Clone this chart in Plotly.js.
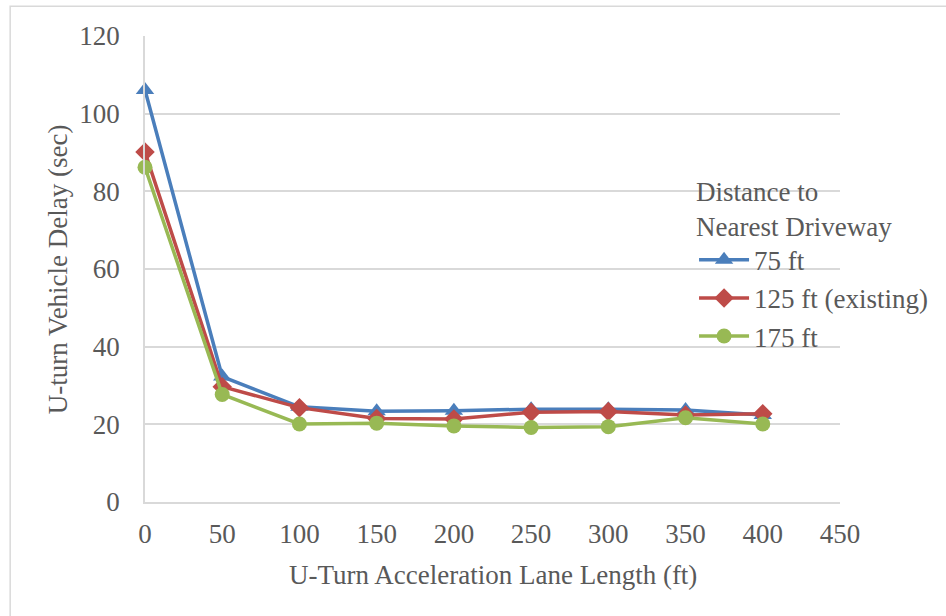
<!DOCTYPE html>
<html>
<head>
<meta charset="utf-8">
<script src="https://cdn.plot.ly/plotly-3.0.1.min.js"></script>
<style>html,body{margin:0;padding:0;background:#fff;}#chart{width:946px;height:616px;}</style>
</head>
<body>
<div id="chart"></div>
<script>
const laneLength = [0, 50, 100, 150, 200, 250, 300, 350, 400];
const delay75 = [106.1, 32.3, 24.5, 23.4, 23.5, 23.9, 23.9, 23.7, 22.4];
const delay125 = [90.1, 29.7, 24.3, 21.5, 21.4, 23.1, 23.3, 22.4, 22.7];
const delay175 = [86.2, 27.7, 20.1, 20.3, 19.6, 19.2, 19.4, 21.7, 20.1];
const seriesNames = ['75 ft', '125 ft (existing)', '175 ft'];
const xTicks = [0, 50, 100, 150, 200, 250, 300, 350, 400, 450];
const yTicks = [0, 20, 40, 60, 80, 100, 120];
const xTitle = 'U-Turn Acceleration Lane Length (ft)';
const yTitle = 'U-turn Vehicle Delay (sec)';

const colors = ['#4A7EBB', '#BE4B48', '#98B954'];
const symbols = ['triangle-up', 'diamond', 'circle'];
const sizes = [16, 15, 15];
const data = [delay75, delay125, delay175].map((y, i) => ({
  x: laneLength, y: y, name: seriesNames[i], type: 'scatter', mode: 'lines+markers',
  cliponaxis: false,
  line: {color: colors[i], width: 3.5},
  marker: {color: colors[i], symbol: symbols[i], size: sizes[i]}
}));

const font = {family: 'Liberation Serif', color: '#595959', size: 27};
const layout = {
  width: 946, height: 616,
  margin: {l: 145, r: 106, t: 36, b: 114},
  paper_bgcolor: '#fff', plot_bgcolor: 'rgba(0,0,0,0)',
  font: font,
  showlegend: true,
  legend: {
    x: 0.79, y: 0.722, xanchor: 'left', yanchor: 'top',
    bgcolor: 'rgba(0,0,0,0)',
    title: {text: 'Distance to<br>Nearest Driveway', font: font, side: 'top'},
    font: font, tracegroupgap: 0, itemwidth: 50
  },
  xaxis: {
    range: [0, 450], tickvals: xTicks, ticktext: xTicks.map(String),
    showgrid: false, zeroline: false, showline: true, linecolor: '#d9d9d9', linewidth: 1.5,
    ticks: '', ticklabelstandoff: 7
  },
  yaxis: {
    range: [0, 120], tickvals: yTicks, ticktext: yTicks.map(String),
    showgrid: true, gridcolor: '#d9d9d9', gridwidth: 1.5,
    zeroline: false, showline: true, linecolor: '#d9d9d9', linewidth: 1.5,
    ticks: '', ticklabelstandoff: 18
  },
  annotations: [
    {text: xTitle, xref: 'paper', yref: 'paper', x: 0.5, y: -0.157, xanchor: 'center', yanchor: 'middle',
     showarrow: false, font: font},
    {text: yTitle, xref: 'paper', yref: 'paper', x: -0.125, y: 0.5, xanchor: 'center', yanchor: 'middle',
     textangle: -90, showarrow: false, font: font}
  ],
  shapes: [{
    type: 'rect', xref: 'paper', yref: 'paper', x0: -0.194, x1: 1.2, y0: -0.3, y1: 1.064,
    line: {color: '#d9d9d9', width: 1.5}, layer: 'below'
  }]
};
Plotly.newPlot('chart', data, layout, {displayModeBar: false});
</script>
</body>
</html>
